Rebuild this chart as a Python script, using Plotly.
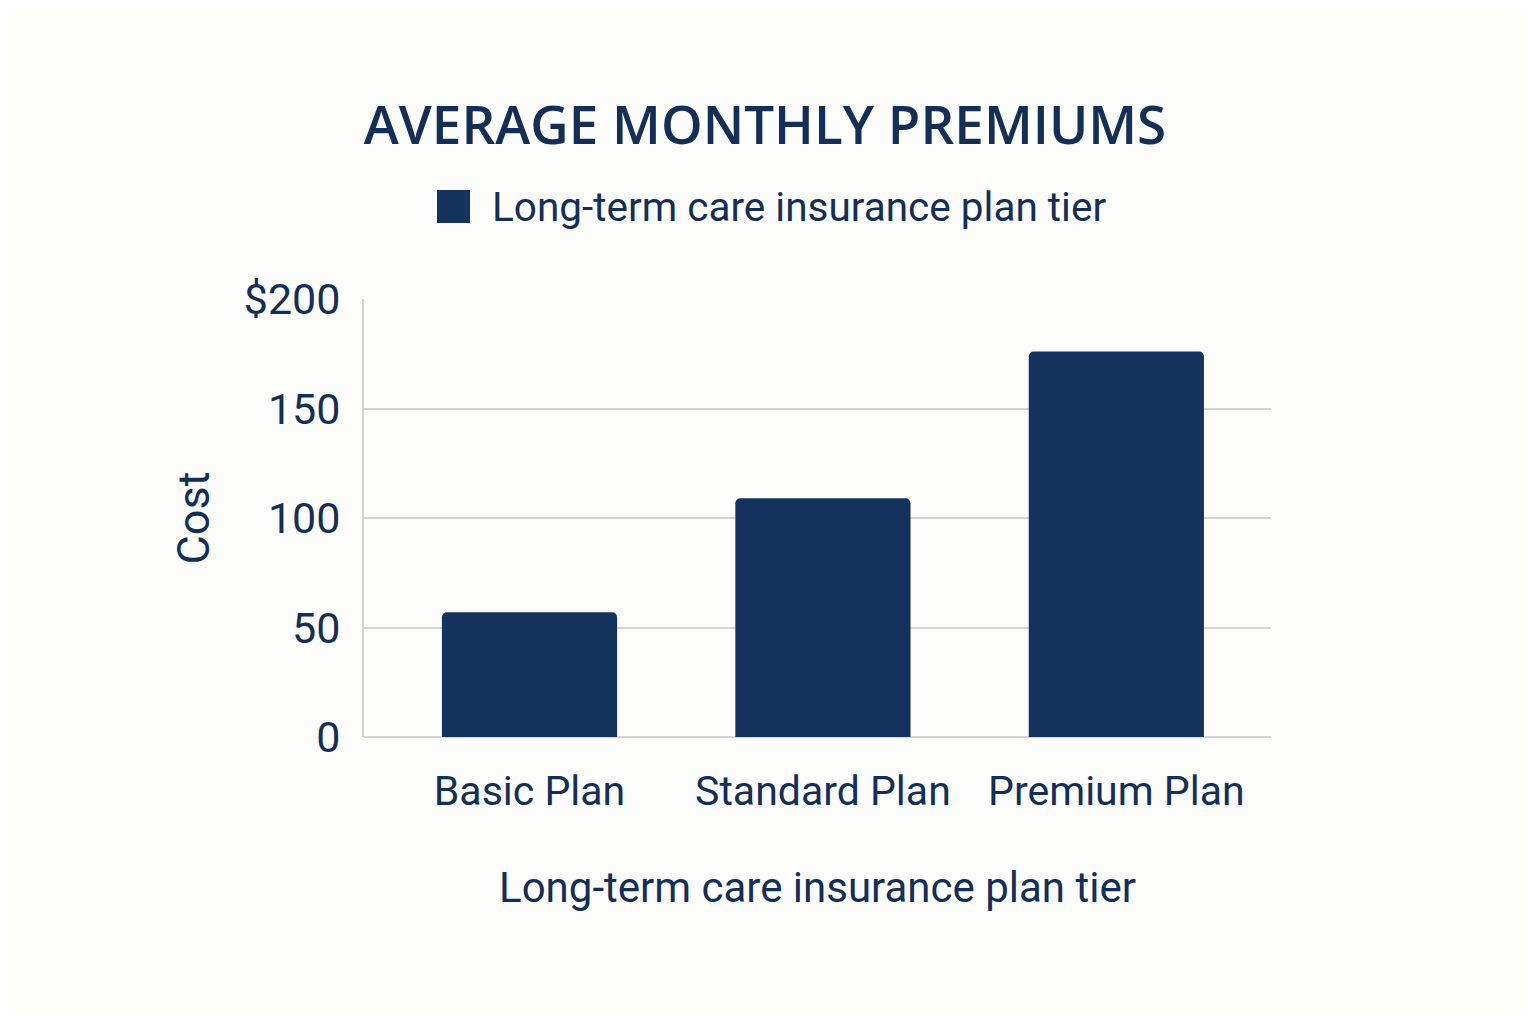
import plotly.graph_objects as go

categories = ["Basic Plan", "Standard Plan", "Premium Plan"]
costs = [57, 109, 176]
y_tick_vals = [0, 50, 100, 150, 200]
y_tick_text = ["0", "50", "100", "150", "$200"]
series_name = "Long-term care insurance plan tier"

NAVY = "#13335e"
TEXT = "#132e57"
GRID = "#d4d4d4"
BG = "#fcfcfa"
FONT = "Roboto"

# page body adds an 8px margin; figure is sized to fill the rest of the window
W, H, OFF = 1520, 1008, 8
PL, PR, PT, PB = 364 - OFF, 1271 - OFF, 299 - OFF, 737 - OFF

fig = go.Figure()
fig.add_trace(go.Bar(
    x=list(range(len(categories))),
    y=costs,
    name=series_name,
    marker=dict(color=NAVY, line=dict(width=0)),
    width=0.597,
    showlegend=False,
))

pw, ph = PR - PL, PB - PT

fig.update_layout(
    width=W, height=H,
    paper_bgcolor=BG, plot_bgcolor=BG,
    margin=dict(l=PL, r=W - PR, t=PT, b=H - PB, autoexpand=False),
    font=dict(family=FONT, color=TEXT),
    barcornerradius=5,
    title=dict(text="AVERAGE MONTHLY PREMIUMS", x=(765 - OFF) / W, xanchor="center",
               y=1 - (125 - OFF) / H, yanchor="middle",
               font=dict(size=53, family="Open Sans", weight=600, color=TEXT)),
    xaxis=dict(
        range=[-0.564, 2.527],
        tickvals=list(range(len(categories))), ticktext=categories,
        tickfont=dict(size=41, color=TEXT), showgrid=False,
        showline=False, zeroline=False, ticks="", ticklabelstandoff=26,
        title=dict(text=series_name, font=dict(size=42, color=TEXT), standoff=58),
        automargin=False,
    ),
    yaxis=dict(
        range=[0, 200], tickvals=y_tick_vals, ticktext=y_tick_text,
        tickfont=dict(size=43, color=TEXT), showgrid=True, gridcolor=GRID, gridwidth=2,
        showline=True, linecolor=GRID, linewidth=2, zeroline=True, zerolinecolor=GRID,
        zerolinewidth=2, ticks="", ticklabelstandoff=13,
        title=dict(text="Cost", font=dict(size=45, color=TEXT), standoff=20),
        automargin=False,
    ),
    shapes=[dict(type="rect", xref="paper", yref="paper",
                 x0=(437 - 364) / pw, x1=(470 - 364) / pw,
                 y0=(737 - 223) / ph, y1=(737 - 190) / ph,
                 fillcolor=NAVY, line=dict(width=0), layer="above")],
    annotations=[dict(text=series_name, xref="paper", yref="paper",
                      x=(490 - 364) / pw, y=(737 - 207) / ph, xanchor="left", yanchor="middle",
                      showarrow=False, font=dict(size=40.5, color=TEXT, family=FONT))],
)

fig.write_html("out.html")
